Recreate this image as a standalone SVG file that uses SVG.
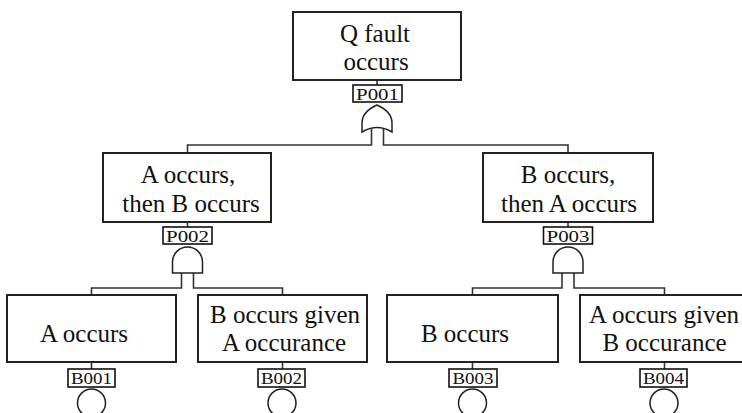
<svg xmlns="http://www.w3.org/2000/svg" width="742" height="413" viewBox="0 0 742 413">
<style>
.box{fill:#fff;stroke:#222;stroke-width:2}
.lbl{fill:#fff;stroke:#111;stroke-width:1.6}
.gate{fill:#fff;stroke:#222;stroke-width:1.5}
.ln{fill:none;stroke:#333;stroke-width:1.6}
.t{font-size:25px;fill:#111;text-anchor:middle}
.s{font-size:17px;fill:#111;text-anchor:middle}
</style>
<rect width="742" height="413" fill="#fff"/>
<g id="connectors">
<path class="ln" d="M377,80 V85"/>
<path class="ln" d="M371.5,128 V145 H187.5 V153"/>
<path class="ln" d="M383.5,128 V145 H568 V153"/>
<path class="ln" d="M187.5,222 V227"/>
<path class="ln" d="M568,222 V227"/>
<path class="ln" d="M181.5,273 V288 H91.5 V295"/>
<path class="ln" d="M193.5,273 V288 H282.5 V295"/>
<path class="ln" d="M562,273 V288 H472.5 V295"/>
<path class="ln" d="M574,273 V288 H664.5 V295"/>
<path class="ln" d="M91.5,362 V369"/>
<path class="ln" d="M282.5,362 V369"/>
<path class="ln" d="M472.5,362 V369"/>
<path class="ln" d="M664.5,362 V369"/>
</g>
<g font-family="Liberation Serif, Times New Roman, serif">
<g id="P001">
<rect class="box" x="293" y="12" width="168" height="68"/>
<text class="t" x="375" y="42">Q fault</text>
<text class="t" x="376" y="70">occurs</text>
<rect class="lbl" x="353" y="85" width="49" height="17"/>
<text class="s" x="377.5" y="100" textLength="43" lengthAdjust="spacingAndGlyphs">P001</text>
<path class="gate" d="M377,105 C386,109 392,115 392,123 L392,132 Q377,123 362,132 L362,123 C362,115 368,109 377,105 Z"/>
</g>
<g id="P002">
<rect class="box" x="103" y="153" width="168" height="69"/>
<text class="t" x="188" y="183">A occurs,</text>
<text class="t" x="191" y="212">then B occurs</text>
<rect class="lbl" x="163" y="227" width="49" height="17"/>
<text class="s" x="187.5" y="242" textLength="43" lengthAdjust="spacingAndGlyphs">P002</text>
<path class="gate" d="M172.5,273 V262 A15,15 0 0 1 202.5,262 V273 Z"/>
</g>
<g id="P003">
<rect class="box" x="483" y="153" width="170" height="69"/>
<text class="t" x="568" y="183">B occurs,</text>
<text class="t" x="569" y="212">then A occurs</text>
<rect class="lbl" x="543.5" y="227" width="49" height="17"/>
<text class="s" x="568" y="242" textLength="43" lengthAdjust="spacingAndGlyphs">P003</text>
<path class="gate" d="M553,273 V262 A15,15 0 0 1 583,262 V273 Z"/>
</g>
<g id="B001">
<rect class="box" x="7" y="295" width="169" height="67"/>
<text class="t" x="84" y="342">A occurs</text>
<rect class="lbl" x="68" y="369" width="47" height="18"/>
<text class="s" x="91.5" y="384" textLength="41" lengthAdjust="spacingAndGlyphs">B001</text>
<circle class="gate" cx="91.5" cy="403" r="14"/>
</g>
<g id="B002">
<rect class="box" x="198" y="295" width="169" height="67"/>
<text class="t" x="285" y="323">B occurs given</text>
<text class="t" x="284" y="351">A occurance</text>
<rect class="lbl" x="258" y="369" width="47" height="18"/>
<text class="s" x="281.5" y="384" textLength="41" lengthAdjust="spacingAndGlyphs">B002</text>
<circle class="gate" cx="282" cy="403" r="14"/>
</g>
<g id="B003">
<rect class="box" x="387" y="295" width="171" height="67"/>
<text class="t" x="465" y="342">B occurs</text>
<rect class="lbl" x="449" y="369" width="48" height="18"/>
<text class="s" x="473" y="384" textLength="41" lengthAdjust="spacingAndGlyphs">B003</text>
<circle class="gate" cx="472.5" cy="403" r="14"/>
</g>
<g id="B004">
<rect class="box" x="580" y="295" width="170" height="67"/>
<text class="t" x="664" y="323">A occurs given</text>
<text class="t" x="664.5" y="351">B occurance</text>
<rect class="lbl" x="640" y="369" width="47" height="18"/>
<text class="s" x="663.5" y="384" textLength="41" lengthAdjust="spacingAndGlyphs">B004</text>
<circle class="gate" cx="664" cy="403" r="14"/>
</g>
</g>
</svg>
